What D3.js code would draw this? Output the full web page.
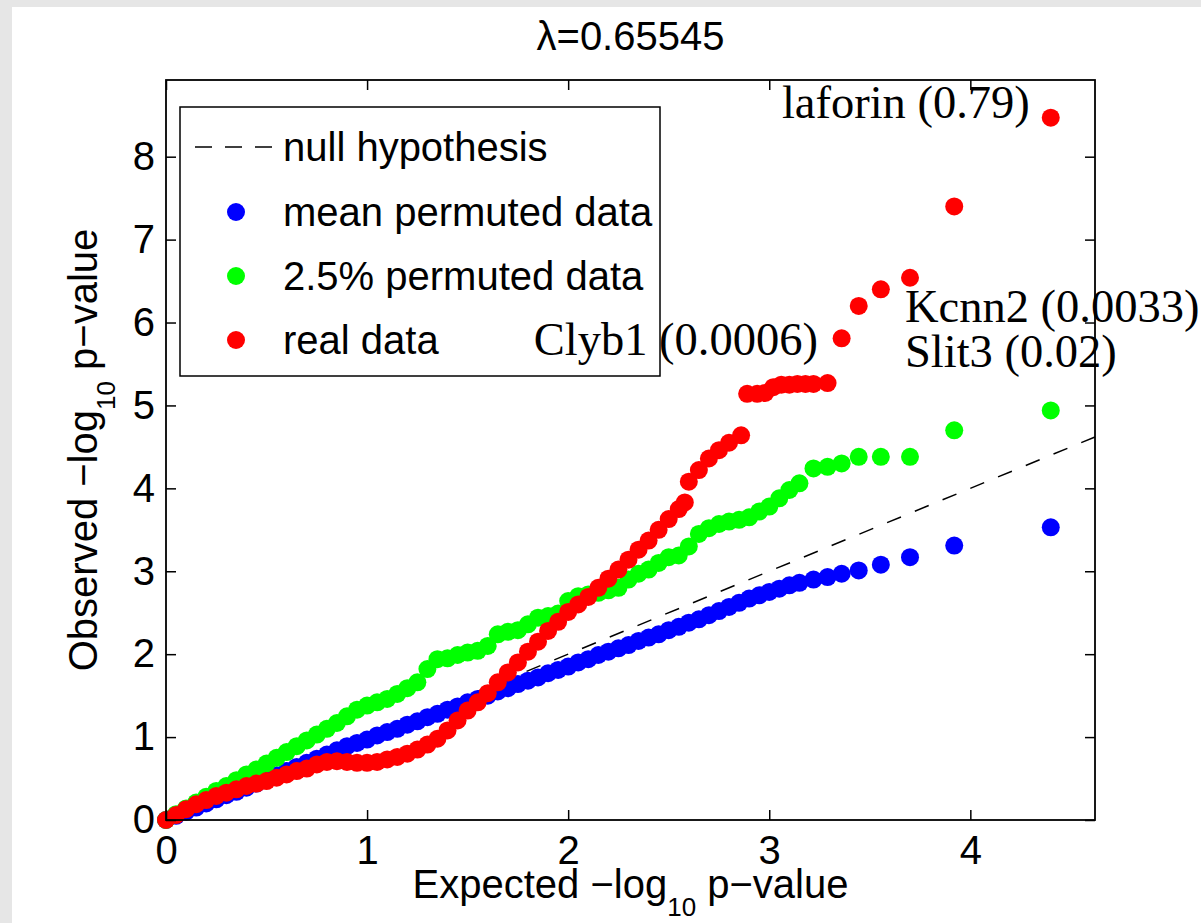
<!DOCTYPE html>
<html>
<head>
<meta charset="utf-8">
<script src="https://cdn.jsdelivr.net/npm/d3@7"></script>
<style>
  html, body { margin: 0; padding: 0; background: #e6e6e6; }
  svg { display: block; }
  text { font-family: "Liberation Sans", Arial, Helvetica, sans-serif; }
</style>
</head>
<body>
<script>
// ---------------- data ----------------
const titleText = "λ=0.65545";
const xTicks = [0, 1, 2, 3, 4];
const yTicks = [0, 1, 2, 3, 4, 5, 6, 7, 8];
const xDomain = [0, 4.62];
const yDomain = [0, 8.925];
const legendLabels = ["null hypothesis", "mean permuted data", "2.5% permuted data", "real data"];

// [expected -log10 p, observed -log10 p]
const meanPermuted = [
  [0.00,0.00],[0.05,0.05],[0.10,0.10],[0.15,0.15],[0.20,0.20],[0.25,0.25],[0.30,0.30],[0.35,0.34],
  [0.40,0.39],[0.45,0.44],[0.50,0.49],[0.55,0.54],[0.60,0.59],[0.65,0.64],[0.70,0.69],[0.75,0.74],
  [0.80,0.79],[0.85,0.84],[0.90,0.89],[0.95,0.93],[1.00,0.97],[1.05,1.02],[1.10,1.06],[1.15,1.10],
  [1.20,1.15],[1.25,1.19],[1.30,1.24],[1.35,1.28],[1.40,1.33],[1.45,1.37],[1.50,1.42],[1.55,1.46],
  [1.60,1.50],[1.65,1.55],[1.70,1.59],[1.75,1.64],[1.80,1.68],[1.85,1.72],[1.90,1.77],[1.95,1.81],
  [2.00,1.85],[2.05,1.90],[2.10,1.94],[2.15,1.99],[2.20,2.03],[2.25,2.07],[2.30,2.11],[2.35,2.16],
  [2.40,2.20],[2.45,2.24],[2.50,2.29],[2.55,2.33],[2.60,2.38],[2.65,2.42],[2.70,2.47],[2.75,2.52],
  [2.80,2.57],[2.85,2.62],[2.90,2.67],[2.95,2.71],[3.00,2.75],[3.05,2.79],[3.10,2.83],[3.15,2.86],
  [3.22,2.90],[3.29,2.93],[3.36,2.97],[3.445,3.01],[3.555,3.08],[3.70,3.17],[3.92,3.31],[4.40,3.53]
];
const permuted25 = [
  [0.00,0.00],[0.05,0.07],[0.10,0.14],[0.15,0.21],[0.20,0.28],[0.25,0.35],[0.30,0.41],[0.35,0.48],
  [0.40,0.55],[0.45,0.61],[0.50,0.68],[0.55,0.75],[0.60,0.82],[0.65,0.89],[0.70,0.96],[0.75,1.03],
  [0.80,1.10],[0.85,1.17],[0.90,1.25],[0.95,1.33],[1.00,1.38],[1.05,1.42],[1.10,1.46],[1.15,1.52],
  [1.20,1.59],[1.25,1.66],[1.30,1.82],[1.35,1.94],[1.40,1.95],[1.45,1.99],[1.50,2.02],[1.55,2.04],
  [1.60,2.10],[1.65,2.24],[1.70,2.27],[1.75,2.29],[1.80,2.36],[1.85,2.44],[1.90,2.46],[1.95,2.49],
  [2.00,2.64],[2.05,2.70],[2.10,2.72],[2.15,2.74],[2.20,2.77],[2.25,2.80],[2.30,2.90],[2.35,2.97],
  [2.40,3.02],[2.45,3.10],[2.50,3.17],[2.55,3.19],[2.60,3.30],[2.65,3.45],[2.70,3.52],[2.75,3.57],
  [2.80,3.60],[2.85,3.62],[2.90,3.65],[2.95,3.72],[3.00,3.78],[3.05,3.88],[3.10,3.98],[3.15,4.06],
  [3.22,4.24],[3.29,4.26],[3.36,4.30],[3.445,4.38],[3.555,4.38],[3.70,4.38],[3.92,4.70],[4.40,4.94]
];
const realData = [
  [0.00,0.00],[0.05,0.06],[0.10,0.13],[0.15,0.19],[0.20,0.24],[0.25,0.29],[0.30,0.33],[0.35,0.37],
  [0.40,0.41],[0.45,0.44],[0.50,0.47],[0.55,0.51],[0.60,0.55],[0.65,0.59],[0.70,0.62],[0.75,0.67],
  [0.80,0.70],[0.85,0.71],[0.90,0.70],[0.95,0.69],[1.00,0.69],[1.05,0.70],[1.10,0.73],[1.15,0.76],
  [1.20,0.80],[1.25,0.85],[1.30,0.91],[1.35,0.98],[1.40,1.08],[1.45,1.20],[1.50,1.32],[1.55,1.42],
  [1.60,1.53],[1.65,1.66],[1.70,1.78],[1.75,1.90],[1.80,2.03],[1.85,2.15],[1.90,2.28],[1.95,2.39],
  [2.00,2.51],[2.05,2.60],[2.10,2.69],[2.15,2.80],[2.20,2.91],[2.25,3.02],[2.30,3.14],[2.35,3.26],
  [2.40,3.37],[2.45,3.50],[2.50,3.63],[2.55,3.75],[2.58,3.83],[2.60,4.08],[2.65,4.22],[2.70,4.36],
  [2.75,4.46],[2.80,4.55],[2.86,4.64],[2.89,5.14],[2.94,5.14],[2.98,5.15],[3.02,5.22],[3.06,5.25],
  [3.10,5.25],[3.14,5.26],[3.18,5.26],[3.22,5.26],[3.29,5.27],[3.36,5.81],[3.445,6.20],[3.555,6.40],
  [3.70,6.54],[3.92,7.40],[4.40,8.47]
];
// gene annotations: text, anchor position in data units, alignment
const annotTexts = ["laforin (0.79)", "Clyb1 (0.0006)", "Kcnn2 (0.0033)", "Slit3 (0.02)"];
const annotX = [4.296, 3.242, 3.675, 3.675];
const annotY = [8.468, 5.609, 6.007, 5.464];
const annotAlign = ["end", "end", "start", "start"];

(function () {
// ---------------- drawing ----------------
const W = 1201, H = 923;
const svg = d3.select("body").append("svg").attr("width", W).attr("height", H);

// figure background (white) with light grey frame
svg.append("rect").attr("x", 0).attr("y", 0).attr("width", W).attr("height", H).attr("fill", "#e6e6e6");
svg.append("rect").attr("x", 12).attr("y", 7).attr("width", W - 12).attr("height", H - 7).attr("fill", "#ffffff");

const mL = 166, mR = 1095, mT = 80, mB = 820;
const x = d3.scaleLinear().domain(xDomain).range([mL, mR]);
const y = d3.scaleLinear().domain(yDomain).range([mB, mT]);

const FS = 40;

// null hypothesis line
svg.append("line")
  .attr("x1", x(0)).attr("y1", y(0))
  .attr("x2", x(xDomain[1])).attr("y2", y(xDomain[1]))
  .attr("stroke", "#000").attr("stroke-width", 1.5)
  .attr("stroke-dasharray", "15,15");

const R = 9;
function drawSeries(data, color) {
  svg.append("g").selectAll("circle").data(data).join("circle")
    .attr("cx", d => x(d[0])).attr("cy", d => y(d[1])).attr("r", R)
    .attr("fill", color);
}
drawSeries(meanPermuted, "#0000ff");
drawSeries(permuted25, "#00ff00");
drawSeries(realData, "#ff0000");

// axes
function styleAxis(g) {
  g.select(".domain").remove();
  g.selectAll(".tick line").attr("stroke", "#000").attr("stroke-width", 1.5);
  g.selectAll(".tick text").attr("fill", "#000").style("font-size", FS + "px")
    .style("font-family", '"Liberation Sans", Arial, sans-serif');
}
svg.append("g").attr("transform", `translate(0,${mB})`)
  .call(d3.axisBottom(x).tickValues(xTicks).tickFormat(d3.format("d")).tickSize(-10).tickSizeOuter(0).tickPadding(16))
  .call(styleAxis);
svg.append("g").attr("transform", `translate(${mL},0)`)
  .call(d3.axisLeft(y).tickValues(yTicks).tickFormat(d3.format("d")).tickSize(-10).tickSizeOuter(0).tickPadding(11))
  .call(styleAxis);
svg.append("g").attr("transform", `translate(0,${mT})`)
  .call(d3.axisTop(x).tickValues(xTicks).tickFormat("").tickSize(-10).tickSizeOuter(0))
  .call(styleAxis);
svg.append("g").attr("transform", `translate(${mR},0)`)
  .call(d3.axisRight(y).tickValues(yTicks).tickFormat("").tickSize(-10).tickSizeOuter(0))
  .call(styleAxis);

// box
svg.append("rect").attr("x", mL).attr("y", mT).attr("width", mR - mL).attr("height", mB - mT)
  .attr("fill", "none").attr("stroke", "#000").attr("stroke-width", 1.8);

// title
svg.append("text").attr("x", (mL + mR) / 2).attr("y", 50).attr("text-anchor", "middle")
  .style("font-size", FS + "px").text(titleText);

// axis labels with subscript
function labelWithSub(g, pre, sub, post) {
  const t = g.append("text").attr("text-anchor", "middle").style("font-size", FS + "px").attr("fill", "#000");
  t.append("tspan").text(pre);
  t.append("tspan").attr("dy", 18).style("font-size", "26px").text(sub);
  t.append("tspan").attr("dy", -18).text(post);
  return t;
}
labelWithSub(svg.append("g").attr("transform", `translate(${(mL + mR) / 2},898)`),
  "Expected \u2212log", "10", " p\u2212value");
labelWithSub(svg.append("g").attr("transform", `translate(97,${(mT + mB) / 2}) rotate(-90)`),
  "Observed \u2212log", "10", " p\u2212value");

// legend
const lg = svg.append("g");
lg.append("rect").attr("x", 180).attr("y", 107).attr("width", 480).attr("height", 269)
  .attr("fill", "#fff").attr("stroke", "#000").attr("stroke-width", 1.5);
const rowsY = [147, 212, 276, 340];
const legendColors = [null, "#0000ff", "#00ff00", "#ff0000"];
lg.append("line").attr("x1", 195).attr("x2", 273).attr("y1", rowsY[0]).attr("y2", rowsY[0])
  .attr("stroke", "#000").attr("stroke-width", 1.5).attr("stroke-dasharray", "17,13");
legendLabels.forEach((lab, i) => {
  if (legendColors[i]) {
    lg.append("circle").attr("cx", 236).attr("cy", rowsY[i]).attr("r", 9).attr("fill", legendColors[i]);
  }
  lg.append("text").attr("x", 283).attr("y", rowsY[i]).attr("dy", "0.36em")
    .style("font-size", FS + "px").attr("fill", "#000").text(lab);
});

// annotations (drawn above the legend, as in the original)
svg.append("g").selectAll("text").data(annotTexts).join("text")
  .attr("x", (d, i) => x(annotX[i])).attr("y", (d, i) => y(annotY[i]))
  .attr("text-anchor", (d, i) => annotAlign[i])
  .style("font-family", '"Liberation Serif", "Times New Roman", serif')
  .style("font-size", "46.5px").attr("fill", "#000").text(d => d);
})();
</script>
</body>
</html>
